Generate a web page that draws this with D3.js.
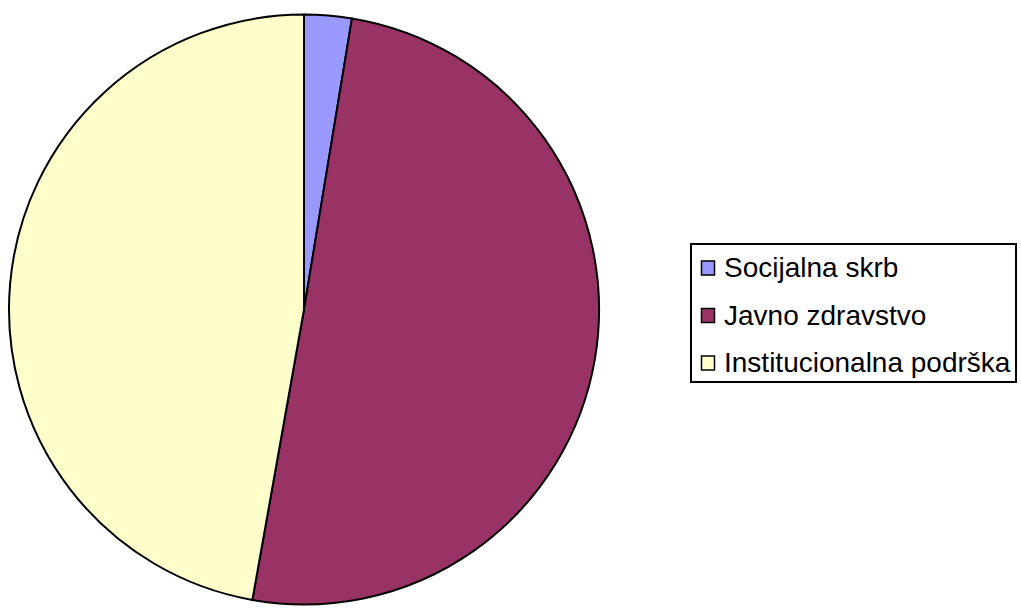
<!DOCTYPE html>
<html lang="hr">
<head>
<meta charset="utf-8">
<title>Pie chart</title>
<style>
body { margin: 0; background: #fff; }
svg text { font-family: "Liberation Sans", Arial, sans-serif; fill: #000; }
</style>
</head>
<body>
<div id="chart"></div>
<script src="https://d3js.org/d3.v7.min.js"></script>
<script>
// data (shares, %)
var categories = ["Socijalna skrb", "Javno zdravstvo", "Institucionalna podrška"];
var values = [2.6, 50.2, 47.2];
var colors = ["#9999FF", "#993366", "#FFFFCC"];

var W = 1021, H = 609;
var svg = d3.select("#chart").append("svg").attr("width", W).attr("height", H);

var cx = 304, cy = 309.5, r = 295;

var pie = d3.pie().sort(null).value(function(d) { return d; });
var arc = d3.arc().innerRadius(0).outerRadius(r);

var g = svg.append("g").attr("transform", "translate(" + cx + "," + cy + ")");
g.selectAll("path")
    .data(pie(values))
    .enter()
    .append("path")
    .attr("d", arc)
    .attr("fill", function(d, i) { return colors[i]; })
    .attr("stroke", "#000")
    .attr("stroke-width", 2)
    .attr("stroke-linejoin", "round");

// legend
var lg = svg.append("g").attr("transform", "translate(691,244)");
lg.append("rect")
    .attr("x", 0).attr("y", 0)
    .attr("width", 325).attr("height", 138)
    .attr("fill", "#fff").attr("stroke", "#000").attr("stroke-width", 2);

var item = lg.selectAll(".item")
    .data(categories)
    .enter()
    .append("g")
    .attr("class", "item")
    .attr("transform", function(d, i) { return "translate(0," + (33 + i * 47.5) + ")"; });

item.append("rect")
    .attr("x", 10.5).attr("y", -16)
    .attr("width", 13).attr("height", 14)
    .attr("fill", function(d, i) { return colors[i]; })
    .attr("stroke", "#000").attr("stroke-width", 1.5);

item.append("text")
    .attr("x", 33).attr("y", 0)
    .style("font-size", "28px")
    .text(function(d) { return d; });
</script>
</body>
</html>
